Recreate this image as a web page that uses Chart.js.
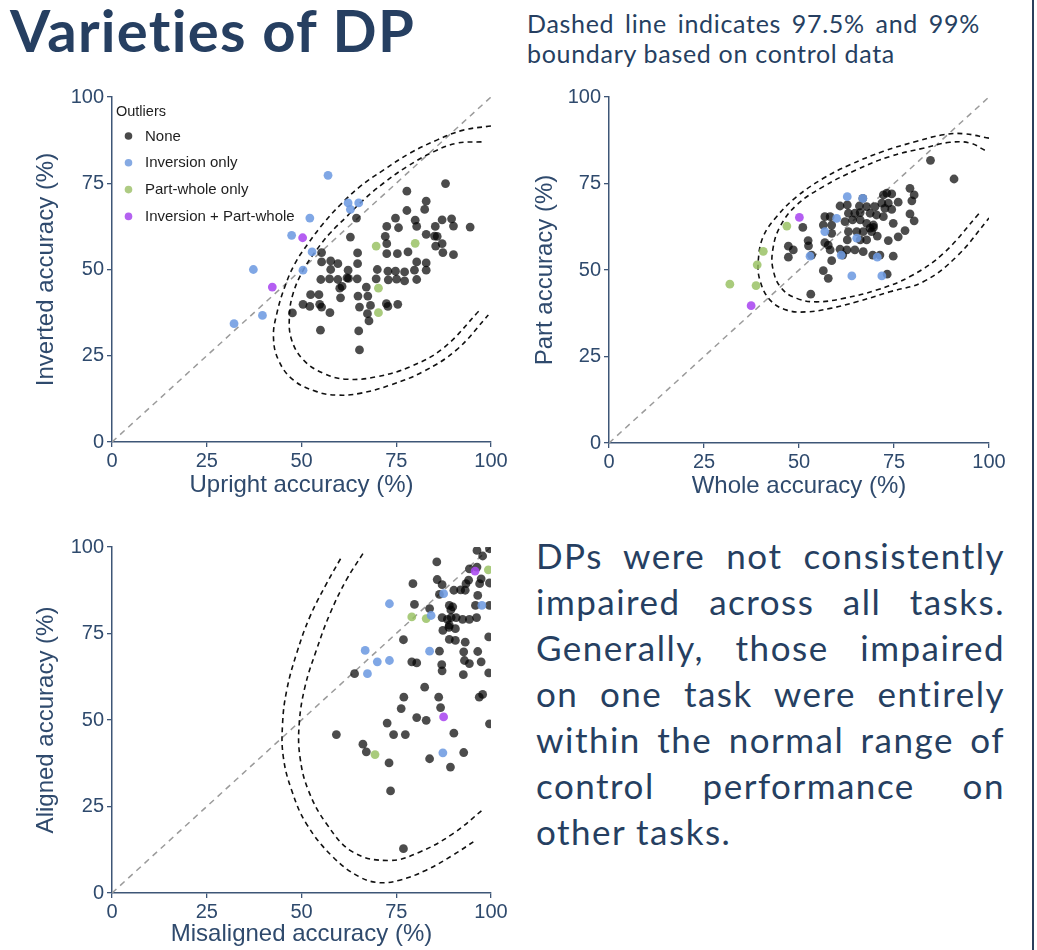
<!DOCTYPE html>
<html><head><meta charset="utf-8">
<script src="https://cdn.jsdelivr.net/npm/chart.js@4/dist/chart.umd.min.js"></script>
<style>
html,body{margin:0;padding:0;width:1037px;height:950px;overflow:hidden;background:#fff;}
.abs{position:absolute;}
#title,#sub,#body{font-variant-ligatures:none;font-feature-settings:"liga" 0,"clig" 0;}
#title{left:10px;top:-4px;font-family:Lato,sans-serif;font-weight:700;font-size:58px;letter-spacing:1.3px;line-height:68px;color:#263f61;white-space:nowrap;}
#sub{left:527px;top:8px;width:453px;font-family:Lato,sans-serif;font-size:25px;letter-spacing:0.7px;line-height:30px;color:#263f61;}
#body{left:536px;top:532px;width:469px;font-family:Lato,sans-serif;font-size:35px;letter-spacing:1.5px;line-height:46px;color:#263f61;}
.j{text-align:justify;text-align-last:justify;white-space:nowrap;}
.l{text-align:left;white-space:nowrap;}
#rb{left:1032px;top:0;width:2px;height:950px;background:#2b3f5c;}
canvas{display:block;}
</style></head><body>
<div id="title" class="abs">Varieties of DP</div>
<div id="sub" class="abs"><div class="j">Dashed line indicates 97.5% and 99%</div><div class="l">boundary based on control data</div></div>
<div id="body" class="abs">
<div class="j">DPs were not consistently</div>
<div class="j">impaired across all tasks.</div>
<div class="j">Generally, those impaired</div>
<div class="j">on one task were entirely</div>
<div class="j">within the normal range of</div>
<div class="j">control performance on</div>
<div class="l">other tasks.</div>
</div>
<div id="rb" class="abs"></div>
<div class="abs" style="left:0;top:80px;width:510px;height:422px;"><canvas id="c1" width="510" height="422"></canvas></div>
<div class="abs" style="left:497px;top:80px;width:511px;height:423px;"><canvas id="c2" width="511" height="423"></canvas></div>
<div class="abs" style="left:0;top:530px;width:510px;height:421px;"><canvas id="c3" width="510" height="421"></canvas></div>
<script>
// ---- DATA ----
const groupLabels = ['None', 'Inversion only', 'Part-whole only', 'Inversion + Part-whole'];
const tickValues = [0, 25, 50, 75, 100];
const identityLine = [0, 100];

// Chart 1: Upright (x) vs Inverted (y)
const upInv_none = [[88.0,74.9],[77.8,72.7],[82.9,69.8],[77.8,67.1],[82.5,67.4],[64.5,64.9],[74.8,64.9],[80.0,64.3],[89.6,64.7],[87.1,64.4],[72.5,62.5],[75.6,62.1],[80.4,62.5],[85.3,62.5],[90.1,62.6],[94.5,62.3],[62.9,59.4],[72.1,59.6],[82.9,60.2],[85.1,59.7],[85.8,59.6],[72.5,57.5],[85.4,56.8],[87.1,57.5],[64.8,54.8],[55.3,54.9],[72.5,54.6],[75.3,54.6],[78.1,55.1],[87.3,54.9],[90.1,54.3],[55.3,52.2],[57.7,52.5],[59.6,51.7],[64.8,51.7],[80.4,52.2],[82.9,51.9],[57.7,50.0],[62.3,49.8],[70.0,50.0],[72.8,49.5],[74.8,49.5],[77.2,49.3],[79.8,49.8],[82.9,49.8],[55.1,47.1],[57.4,47.3],[59.6,47.1],[62.0,47.6],[62.4,47.4],[64.7,47.3],[69.7,47.3],[72.9,47.0],[75.1,47.2],[77.2,46.7],[80.4,47.1],[60.1,44.6],[60.7,45.1],[67.1,44.9],[52.4,42.7],[54.6,42.7],[60.3,41.8],[64.9,42.3],[67.5,42.3],[50.4,39.9],[52.2,39.3],[54.8,39.9],[55.3,39.1],[57.5,37.5],[65.3,39.1],[68.2,39.6],[72.4,40.1],[72.8,39.3],[75.4,39.9],[47.6,37.4],[67.4,37.2],[67.8,35.1],[55.0,32.4],[65.1,32.2],[65.3,26.7]];
const upInv_inversion = [[57.0,77.3],[62.3,69.3],[65.1,69.3],[62.9,67.4],[52.2,64.9],[47.4,59.9],[52.8,55.1],[50.4,49.8],[37.3,50.0],[39.7,36.7],[32.2,34.3]];
const upInv_partWhole = [[69.7,56.8],[80.0,57.6],[70.3,44.6],[70.3,37.5]];
const upInv_both = [[50.3,59.2],[42.3,44.9]];
const upInv_inner = [[97.5,87.0],[90.9,86.6],[84.8,84.1],[77.8,79.8],[71.6,75.0],[66.3,70.1],[61.9,65.3],[57.5,60.5],[54.0,55.7],[50.5,49.9],[47.8,43.1],[46.8,36.3],[47.4,29.6],[50.5,23.8],[55.8,19.9],[61.9,18.2],[69.8,18.9],[78.6,21.8],[87.4,27.2],[97.1,38.3]];
const upInv_outer = [[100,91.6],[92.7,90.4],[85.7,87.5],[78.6,83.7],[71.6,78.8],[65.4,74.0],[60.2,68.7],[55.8,63.4],[51.8,57.6],[48.3,51.8],[45.6,45.0],[43.5,37.3],[42.6,30.5],[43.9,23.8],[47.8,18.0],[54.0,14.6],[59.3,13.6],[65.4,14.1],[73.4,16.5],[82.1,20.4],[90.9,26.7],[99.3,36.8]];

// Chart 2: Whole (x) vs Part (y)
const wholePart_none = [[84.6,81.7],[90.8,76.3],[79.2,73.6],[80.3,71.7],[73.1,72.2],[74.4,72.0],[72.2,71.7],[79.7,70.0],[66.8,70.7],[76.1,69.6],[60.8,68.5],[62.7,68.8],[65.9,68.5],[67.8,68.3],[70.0,68.3],[71.8,69.3],[73.5,69.3],[72.6,67.8],[74.4,67.5],[56.8,65.4],[58.2,65.4],[63.0,66.4],[64.7,66.4],[66.1,66.6],[68.7,66.4],[70.4,65.9],[72.2,65.4],[79.2,66.2],[80.3,64.2],[62.1,64.0],[64.1,64.5],[66.1,64.5],[67.8,63.5],[69.6,63.0],[69.6,62.3],[74.8,63.5],[51.0,62.3],[58.6,63.0],[56.4,63.0],[63.0,61.1],[65.2,61.1],[66.9,61.1],[68.7,62.1],[69.1,61.1],[58.6,60.6],[77.9,61.4],[70.6,59.8],[73.5,58.5],[76.1,59.6],[52.4,58.5],[56.8,57.9],[57.7,57.2],[62.7,58.7],[66.1,58.7],[67.8,58.7],[47.2,56.9],[48.5,55.8],[58.2,55.8],[60.8,56.0],[62.6,55.8],[64.7,55.8],[66.9,55.3],[69.4,54.3],[71.3,54.3],[74.8,54.0],[47.2,53.7],[53.3,54.3],[58.6,52.7],[61.5,54.3],[56.4,49.8],[57.7,47.6],[73.2,48.8],[53.1,43.0],[52.5,57.0]];
const wholePart_inversion = [[62.7,71.2],[66.8,70.7],[59.9,64.9],[56.8,61.1],[65.2,59.2],[52.9,54.0],[61.1,54.3],[70.6,53.7],[63.9,48.3],[71.8,48.3]];
const wholePart_partWhole = [[46.8,62.7],[40.6,55.4],[39.0,51.5],[31.8,45.9],[38.7,45.5]];
const wholePart_both = [[50.1,65.2],[37.4,39.7]];
const wholePart_inner = [[98.9,84.6],[95.0,86.7],[89.7,86.9],[82.7,85.2],[73.9,82.8],[65.2,79.0],[56.4,74.1],[49.4,68.8],[45.0,62.5],[43.1,55.8],[43.2,50.0],[45.4,44.7],[49.4,41.8],[54.6,40.8],[61.7,41.8],[70.4,44.2],[79.2,48.1],[88.0,54.8],[97.6,66.6]];
const wholePart_outer = [[100,88.1],[93.2,89.4],[88.0,89.1],[81.0,87.2],[72.2,84.3],[63.4,80.4],[56.4,76.5],[49.4,71.2],[44.1,65.4],[40.6,59.7],[39.3,52.9],[39.7,47.1],[42.4,41.3],[46.8,38.4],[52.0,37.9],[58.2,38.9],[65.2,40.8],[73.9,43.7],[82.7,46.6],[91.5,53.9],[100,65.0]];

// Chart 3: Misaligned (x) vs Aligned (y)
const misAl_none = [[96.3,99.0],[99.6,99.5],[97.8,97.4],[85.7,95.7],[94.3,93.7],[96.3,94.2],[79.4,89.4],[85.8,90.6],[87.1,89.1],[86.4,86.3],[90.2,87.5],[92.0,87.6],[93.2,87.5],[93.4,89.4],[94.1,90.4],[97.0,89.4],[97.4,90.8],[99.6,89.6],[96.5,86.0],[95.9,83.1],[99.6,83.1],[79.8,83.4],[83.8,82.2],[89.0,83.1],[89.9,82.7],[89.4,81.8],[87.1,79.6],[88.5,79.1],[89.5,79.6],[90.8,79.6],[92.5,79.1],[94.3,79.1],[96.2,79.6],[87.3,75.9],[89.0,77.4],[88.9,76.8],[90.6,76.4],[89.0,73.3],[90.6,73.0],[93.2,72.5],[99.4,74.0],[76.9,73.2],[86.4,69.9],[92.8,69.7],[96.5,69.8],[93.0,67.2],[94.3,66.3],[97.4,66.8],[79.1,66.8],[80.4,66.5],[87.0,66.0],[87.1,64.2],[92.7,63.1],[99.4,63.6],[64.0,63.4],[82.5,59.5],[77.0,56.6],[86.2,56.6],[96.9,56.6],[97.8,57.4],[76.3,53.3],[86.7,53.6],[80.4,50.7],[82.9,49.9],[99.6,48.9],[72.6,49.1],[59.2,45.8],[74.3,45.8],[77.4,45.8],[90.2,46.2],[66.2,43.0],[67.1,40.8],[92.8,40.6],[73.1,37.6],[83.8,38.8],[89.3,36.4],[73.5,29.5],[76.9,12.8]];
const misAl_inversion = [[73.2,83.6],[87.5,86.5],[97.6,83.1],[84.2,80.2],[83.8,69.9],[66.8,70.1],[70.0,66.8],[73.2,67.2],[67.4,63.4],[87.3,40.5]];
const misAl_partWhole = [[99.3,93.4],[79.1,79.8],[82.9,79.3],[69.4,40.0]];
const misAl_both = [[95.8,93.0],[87.5,50.9]];
const misAl_inner = [[66.2,98.1],[61.8,90.4],[57.5,80.7],[53.9,70.1],[50.9,59.5],[49.4,48.9],[49.6,39.3],[51.8,29.7],[56.6,20.0],[63.6,11.8],[73.2,9.4],[81.1,11.8],[89.9,17.1],[98.2,24.4]];
const misAl_outer = [[60.3,96.6],[56.6,89.4],[52.2,79.8],[48.7,69.2],[46.1,58.6],[45.0,48.9],[45.2,39.3],[47.4,29.7],[51.3,20.0],[58.3,10.4],[65.4,4.6],[70.6,3.0],[75.9,3.7],[82.9,6.6],[89.9,10.9],[95.9,15.2]];

// ---- STYLE ----
const NAVY = '#2f4a6d';
const AXIS = '#3e5677';
const groupColors = ['rgba(0,0,0,0.7)', 'rgba(110,155,225,0.88)', 'rgba(150,192,95,0.82)', 'rgba(170,72,240,0.88)'];
const legendSwatch = ['#4a4a4a', '#86aae3', '#aecb83', '#b462f0'];
const axisFont = {family: "'Liberation Sans', Arial, sans-serif", size: 20};
const titleFont = {family: "'Liberation Sans', Arial, sans-serif", size: 24};

const pts = arr => arr.map(p => ({x: p[0], y: p[1]}));

const insideLegend = {
  id: 'insideLegend',
  afterDatasetsDraw(chart, args, opts) {
    if (!opts.show) return;
    const {ctx, chartArea: a} = chart;
    ctx.save();
    ctx.textBaseline = 'middle';
    ctx.textAlign = 'left';
    ctx.fillStyle = '#1e1e1e';
    ctx.font = "14.5px 'Liberation Sans', Arial, sans-serif";
    ctx.fillText(opts.title, a.left + 4, a.top + 15);
    ctx.font = "15px 'Liberation Sans', Arial, sans-serif";
    opts.labels.forEach((lab, i) => {
      const y = a.top + 39 + i * 26.8;
      ctx.beginPath();
      ctx.fillStyle = opts.colors[i];
      ctx.arc(a.left + 16.5, y, 3.8, 0, Math.PI * 2);
      ctx.fill();
      ctx.fillStyle = '#1e1e1e';
      ctx.fillText(lab, a.left + 33, y + 0.5);
    });
    ctx.restore();
  }
};

function makeChart(id, groups, inner, outer, xTitle, yTitle, opt) {
  const datasets = [];
  groups.forEach((g, i) => {
    datasets.push({
      label: groupLabels[i], data: pts(g),
      backgroundColor: groupColors[i], borderWidth: 0,
      pointRadius: 4.4, pointHoverRadius: 4.4,
      order: i === 0 ? 2 : 1
    });
  });
  [inner, outer].forEach(c => {
    datasets.push({
      label: 'boundary', data: pts(c), showLine: true, fill: false,
      borderColor: '#111', borderWidth: 1.6, borderDash: [5, 4], tension: 0.4,
      pointRadius: 0, order: 5
    });
  });
  datasets.push({
    label: 'identity', data: identityLine.map(v => ({x: v, y: v})), showLine: true, fill: false,
    borderColor: '#9b9b9b', borderWidth: 1.5, borderDash: [6, 5], pointRadius: 0, order: 6
  });
  const common = {
    type: 'linear', min: 0, max: 100,
    afterBuildTicks: s => { s.ticks = tickValues.map(v => ({value: v})); },
    grid: {drawOnChartArea: false, drawTicks: true, tickLength: 5, color: AXIS, lineWidth: 1.3},
    border: {display: true, color: AXIS, width: 1.5},
  };
  return new Chart(document.getElementById(id), {
    type: 'scatter',
    data: {datasets},
    options: {
      responsive: false, animation: false, events: [],
      layout: {padding: {left: 0, top: 17, right: 19, bottom: 0}},
      plugins: {legend: {display: false}, tooltip: {enabled: false},
        insideLegend: {show: opt.legend, title: 'Outliers', labels: groupLabels, colors: legendSwatch}},
      scales: {
        x: Object.assign({}, common, {
          ticks: {color: NAVY, font: axisFont, padding: 2, maxRotation: 0, autoSkip: false},
          title: {display: true, text: xTitle, color: NAVY, font: titleFont, padding: {top: 0, bottom: 2}},
          afterFit: s => { s.height = opt.xh; }
        }),
        y: Object.assign({}, common, {
          ticks: {color: NAVY, font: axisFont, padding: 3, autoSkip: false},
          title: {display: true, text: yTitle, color: NAVY, font: titleFont, padding: {top: opt.yt, bottom: 0}},
          afterFit: s => { s.width = 112; }
        })
      }
    },
    plugins: [insideLegend]
  });
}

makeChart('c1', [upInv_none, upInv_inversion, upInv_partWhole, upInv_both], upInv_inner, upInv_outer,
  'Upright accuracy (%)', 'Inverted accuracy (%)', {legend: true, xh: 60, yt: 31.6});
makeChart('c2', [wholePart_none, wholePart_inversion, wholePart_partWhole, wholePart_both], wholePart_inner, wholePart_outer,
  'Whole accuracy (%)', 'Part accuracy (%)', {legend: false, xh: 60, yt: 33.6});
makeChart('c3', [misAl_none, misAl_inversion, misAl_partWhole, misAl_both], misAl_inner, misAl_outer,
  'Misaligned accuracy (%)', 'Aligned accuracy (%)', {legend: false, xh: 58, yt: 31.6});
</script>
</body></html>
